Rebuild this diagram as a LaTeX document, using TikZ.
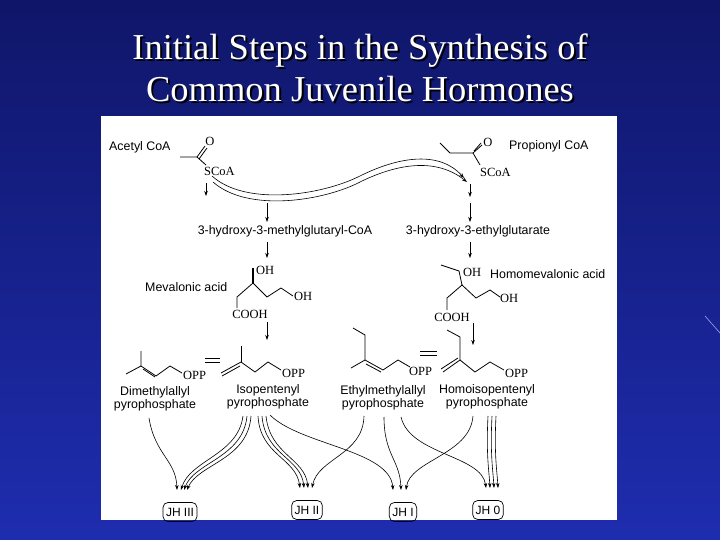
\documentclass[tikz,border=0pt]{standalone}
\usepackage{fontspec}
\setmainfont{Liberation Serif}
\setsansfont{Liberation Sans}
\usetikzlibrary{arrows.meta}
\begin{document}
\begin{tikzpicture}[x=1pt,y=-1pt,
  lbl/.style={font=\sffamily\fontsize{12.4}{13.5}\selectfont,inner sep=0pt,align=center},
  chem/.style={font=\rmfamily\fontsize{12.5}{13}\selectfont,inner sep=0pt},
  bond/.style={line width=0.8pt},
  arr/.style={line width=0.6pt,-{Stealth[length=5pt,width=3.5pt]}},
  jh/.style={draw,line width=0.7pt,rounded corners=5pt,font=\sffamily\fontsize{12}{13}\selectfont,inner sep=3pt,minimum height=19pt},
  title/.style={font=\rmfamily\fontsize{36.5}{42}\selectfont,text=white,align=center}]
\useasboundingbox (0,0) rectangle (720,540);
\shade[top color={rgb,255:red,15;green,22;blue,105},bottom color={rgb,255:red,30;green,45;blue,175}] (0,0) rectangle (720,540);
\draw[white!70!blue,line width=0.5pt] (705,316) -- (720,333);
% title
\node[title,text=black] at (362,70) {Initial Steps in the Synthesis of\\Common Juvenile Hormones};
\node[title] (t) at (360,68) {Initial Steps in the Synthesis of\\Common Juvenile Hormones};
% panel
\fill[white] (101,116) rectangle (617,520);
% Acetyl CoA
\node[lbl,anchor=west] (acl) at (109,147) {Acetyl CoA};
\draw[bond] (180,157) -- (197,157) -- (206,165);
\draw[bond] (197,157) -- (205,146); \draw[bond] (199,159) -- (207,148);
\node[chem] (ao) at (210,141) {O};
\node[chem,anchor=west] (as) at (204,171) {SCoA};
% Propionyl CoA
\node[lbl,anchor=west] (pcl) at (509,146) {Propionyl CoA};
\draw[bond] (440,143) -- (450,153) -- (473,153) -- (480,165);
\draw[bond] (473,153) -- (482,145); \draw[bond] (474,151) -- (481,143);
\node[chem] (po) at (488,142) {O};
\node[chem,anchor=west] (ps) at (480,172) {SCoA};
% wavy double arrows
\draw[arr] (212,176) .. controls (245,206) and (320,196) .. (360,176) .. controls (400,156) and (440,151) .. (464,178);
\draw[arr] (213,182) .. controls (248,213) and (325,201) .. (362,181) .. controls (402,162) and (438,159) .. (467,182);
% arrows down
\draw[arr] (206,183) -- (206,196);
\draw[arr] (267,203) -- (267,222);
\draw[arr] (470,184) -- (470,197);
\draw[arr] (470,203) -- (470,222);
\node[lbl] (hmg) at (285,231) {3-hydroxy-3-methylglutaryl-CoA};
\node[lbl] (heg) at (478,231) {3-hydroxy-3-ethylglutarate};
\draw[arr] (267,242) -- (267,258);
\draw[arr] (470,242) -- (470,258);
% Mevalonic acid
\node[lbl,anchor=west] (mev) at (145,287) {Mevalonic acid};
\draw[line width=2pt] (253,283) -- (253,268);
\node[chem,anchor=west] at (256,270) {OH};
\draw[bond] (253,283) -- (237,297) -- (237,308);
\draw[bond] (253,283) -- (267,297) -- (281,288) -- (293,296);
\node[chem,anchor=west] at (294,296) {OH};
\node[chem] at (250,314) {COOH};
% Homomevalonic acid
\node[lbl,anchor=west] (hmev) at (490,274) {Homomevalonic acid};
\draw[bond] (462,285) -- (459,271) -- (441,265);
\node[chem,anchor=west] at (463,272) {OH};
\draw[bond] (462,285) -- (447,298) -- (447,310);
\draw[bond] (462,285) -- (476,298) -- (490,290) -- (500,297);
\node[chem,anchor=west] at (500,298) {OH};
\node[chem] at (452,317) {COOH};
% arrows to pyrophosphates
\draw[arr] (267,322) -- (267,340);
\draw[arr] (473,323) -- (473,345);
% DMAPP
\draw[bond] (126,374) -- (141,366) -- (141,351);
\draw[bond] (141,366) -- (156,376); \draw[bond] (143,369) -- (155,377);
\draw[bond] (156,376) -- (170,366) -- (182,373);
\node[chem,anchor=west] at (183,375) {OPP};
\node[lbl] (dma) at (155,399) {Dimethylallyl\\pyrophosphate};
\draw[bond] (205,358) -- (220,358); \draw[bond] (205,362) -- (220,362);
% IPP
\draw[bond] (221,373) -- (241,362); \draw[bond] (222,376) -- (240,366);
\draw[bond] (241,362) -- (241,346);
\draw[bond] (241,362) -- (255,372) -- (268,362) -- (281,370);
\node[chem,anchor=west] at (282,373) {OPP};
\node[lbl] (ipp) at (268,397) {Isopentenyl\\pyrophosphate};
% EMAPP
\draw[bond] (353,328) -- (365,335) -- (365,360) -- (351,368);
\draw[bond] (365,360) -- (383,370); \draw[bond] (366,364) -- (381,372);
\draw[bond] (383,370) -- (398,360) -- (410,367);
\node[chem,anchor=west] at (409,371) {OPP};
\node[lbl] (ema) at (383,398) {Ethylmethylallyl\\pyrophosphate};
\draw[bond] (420,351) -- (437,351); \draw[bond] (420,355) -- (437,355);
% HIPP
\draw[bond] (447,330) -- (460,337) -- (460,360);
\draw[bond] (460,360) -- (443,372); \draw[bond] (458,358) -- (441,369);
\draw[bond] (460,360) -- (475,372) -- (490,362) -- (504,370);
\node[chem,anchor=west] at (505,373) {OPP};
\node[lbl] (hip) at (487,397) {Homoisopentenyl\\pyrophosphate};
% JH boxes
\node[jh] (j3) at (180,512) {JH III};
\node[jh] (j2) at (307,510) {JH II};
\node[jh] (j1) at (403,512) {JH I};
\node[jh] (j0) at (488,510) {JH 0};
% curved arrows
\draw[arr] (149,418) .. controls (155,455) and (176,460) .. (177,490);
\draw[arr] (243,416) .. controls (238,455) and (190,460) .. (181,490);
\draw[arr] (247,416) .. controls (243,458) and (194,462) .. (184,490);
\draw[arr] (251,416) .. controls (248,460) and (198,464) .. (187,490);
\draw[arr] (258,416) .. controls (260,455) and (296,458) .. (300,488);
\draw[arr] (262,416) .. controls (265,455) and (301,458) .. (304,488);
\draw[arr] (266,416) .. controls (270,455) and (305,458) .. (308,488);
\draw[arr] (270,415) .. controls (300,445) and (390,450) .. (393,490);
\draw[arr] (364,416) .. controls (363,455) and (318,458) .. (312,488);
\draw[arr] (384,417) .. controls (384,455) and (400,460) .. (401,490);
\draw[arr] (401,417) .. controls (410,455) and (482,455) .. (486,488);
\draw[arr] (473,416) .. controls (470,455) and (410,460) .. (406,490);
\draw[arr] (488,416) .. controls (486,455) and (489,470) .. (490,488);
\draw[arr] (492,416) .. controls (490,455) and (493,470) .. (494,488);
\draw[arr] (496,416) .. controls (494,455) and (497,470) .. (498,488);
\end{tikzpicture}
\end{document}
